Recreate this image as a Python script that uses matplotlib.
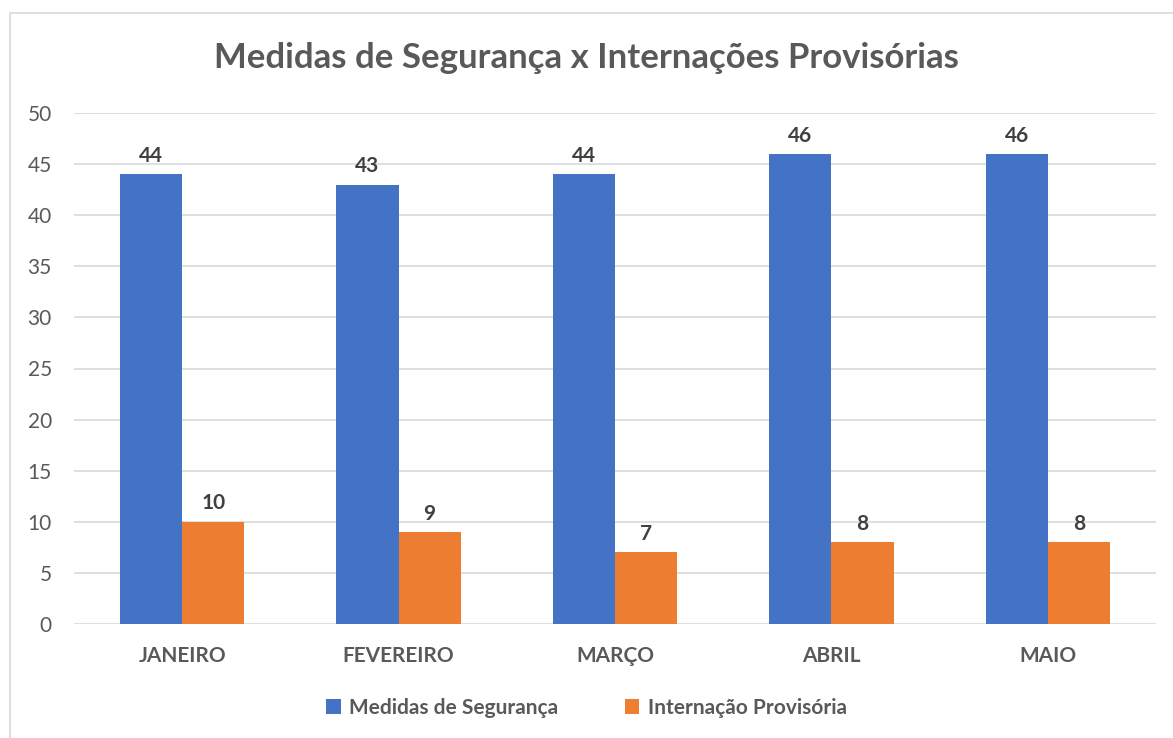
import matplotlib
matplotlib.use("Agg")
import matplotlib.pyplot as plt
import numpy as np
from matplotlib.patches import Rectangle

meses = ["JANEIRO", "FEVEREIRO", "MARÇO", "ABRIL", "MAIO"]
medidas = [44, 43, 44, 46, 46]
internacoes = [10, 9, 7, 8, 8]

plt.rcParams["font.family"] = ["Lato", "DejaVu Sans"]
GREY = "#595959"
BLUE = "#4472c4"
ORANGE = "#ed7d31"

W, H = 1173, 738
fig = plt.figure(figsize=(W / 100, H / 100), dpi=100)

# chart border (cut off at right/bottom like the screenshot)
fig.patches.append(Rectangle((10 / W, -0.05), 1.2, 1 - 13 / H + 0.05,
                             transform=fig.transFigure, fill=False,
                             edgecolor="#d9d9d9", linewidth=1.2))

ax = fig.add_axes([74 / W, 1 - 624 / H, (1156 - 74) / W, (624 - 113) / H])

x = np.arange(len(meses))
bw = 0.287
b1 = ax.bar(x - bw / 2, medidas, bw, color=BLUE, label="Medidas de Segurança", zorder=3)
b2 = ax.bar(x + bw / 2, internacoes, bw, color=ORANGE, label="Internação Provisória", zorder=3)

for bars in (b1, b2):
    ax.bar_label(bars, padding=6, fontsize=15, fontweight="bold", color="#404040")

ax.set_xlim(-0.5, len(meses) - 0.5)
ax.set_ylim(0, 50)
ax.set_yticks(range(0, 51, 5))
ax.set_xticks(x)
ax.set_xticklabels(meses, fontsize=15, fontweight="bold", color=GREY)
ax.tick_params(axis="y", labelsize=15, labelcolor=GREY, length=0, pad=16)
ax.tick_params(axis="x", length=0, pad=16)
ax.grid(axis="y", color="#d9d9d9", linewidth=1.2, zorder=0)
for s in ax.spines.values():
    s.set_visible(False)

fig.text(0.5, 1 - 58 / H, "Medidas de Segurança x Internações Provisórias",
         ha="center", va="center", fontsize=25, fontweight="bold", color=GREY)

fig.legend(loc="center", bbox_to_anchor=(0.5, 1 - 708 / H), ncol=2, frameon=False,
           prop={"size": 15, "weight": "bold"}, labelcolor=GREY,
           handlelength=0.7, handleheight=0.7, handletextpad=0.4, columnspacing=3.2)

fig.savefig("out.png", dpi=100)
